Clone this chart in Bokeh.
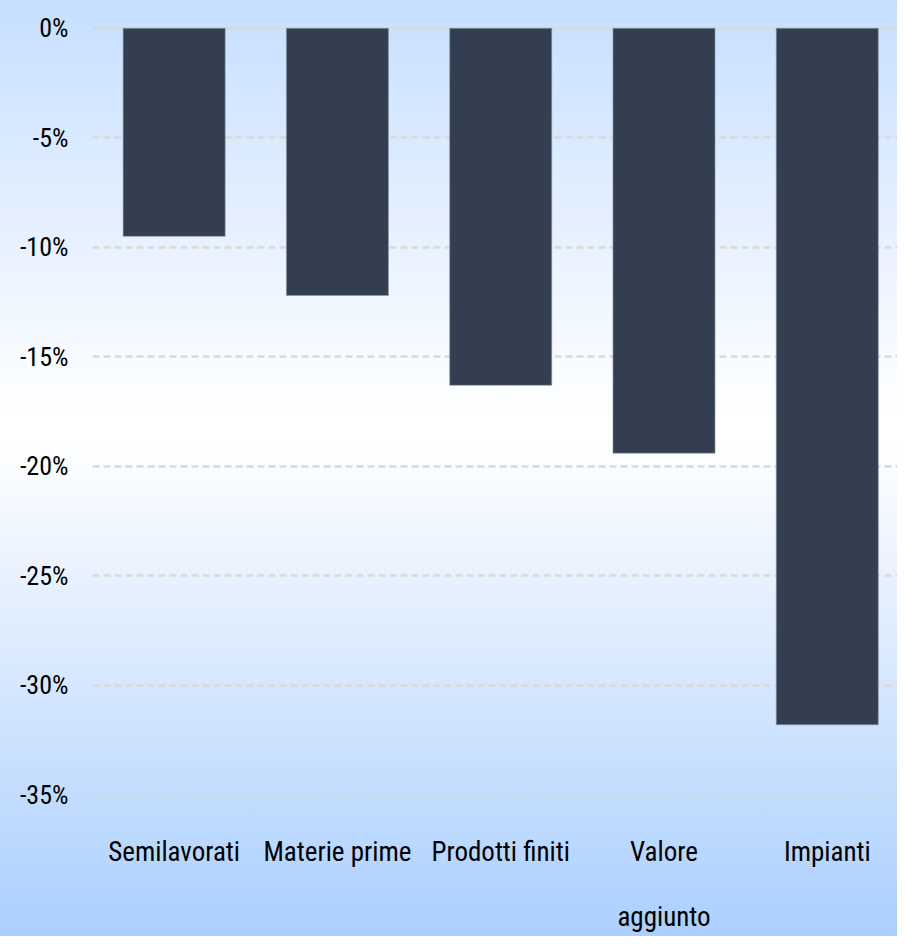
from bokeh.plotting import figure
from bokeh.models import FixedTicker, PrintfTickFormatter, Span, Range1d
from bokeh.embed import file_html
from bokeh.resources import INLINE

categories = ["Semilavorati", "Materie prime", "Prodotti finiti", "Valore\naggiunto", "Impianti"]
values = [-9.5, -12.2, -16.3, -19.4, -31.8]
y_ticks = [0, -5, -10, -15, -20, -25, -30, -35]

FONT = "Roboto Condensed"

x_pos = list(range(len(categories)))

p = figure(width=897, height=936, output_backend="svg", toolbar_location=None,
           x_range=Range1d(-0.5, 4.43), y_range=Range1d(-35.26, 1.268),
           min_border_left=92, min_border_right=0, min_border_top=0, min_border_bottom=128)
p.styles = {"background": "linear-gradient(to bottom, #C6DFFF 0%, #FFFFFF 44%, #FFFFFF 47%, #ABCFFE 100%)"}
p.border_fill_color = None
p.background_fill_color = None
p.outline_line_color = None

p.vbar(x=x_pos, top=0, bottom=values, width=0.625, fill_color="#333F50",
       line_color="#8D97A6", line_width=1, line_alpha=0.6)

p.xaxis.ticker = FixedTicker(ticks=x_pos)
p.xaxis.major_label_overrides = {i: c for i, c in zip(x_pos, categories)}
p.yaxis.ticker = FixedTicker(ticks=y_ticks)
p.yaxis.formatter = PrintfTickFormatter(format="%d%%")

for ax in (p.xaxis, p.yaxis):
    ax.axis_line_color = None
    ax.major_tick_line_color = None
    ax.minor_tick_line_color = None
    ax.major_tick_out = 0
    ax.major_tick_in = 0
    ax.major_label_text_font = FONT
    ax.major_label_text_color = "#000000"

p.xaxis.major_label_text_font_size = "27px"
p.xaxis.major_label_standoff = 35
p.xaxis.major_label_text_line_height = 2.05
p.yaxis.major_label_text_font_size = "26px"
p.yaxis.major_label_standoff = 24

p.xgrid.grid_line_color = None
p.ygrid.ticker = FixedTicker(ticks=y_ticks)
p.ygrid.grid_line_color = "#D9D9D9"
p.ygrid.grid_line_width = 2.5
p.ygrid.grid_line_dash = "7 4"

zero = Span(location=0, dimension="width", line_color="#D9D9D9", line_width=3, level="underlay")
p.add_layout(zero)

open("out.html", "w").write(file_html(p, INLINE))
